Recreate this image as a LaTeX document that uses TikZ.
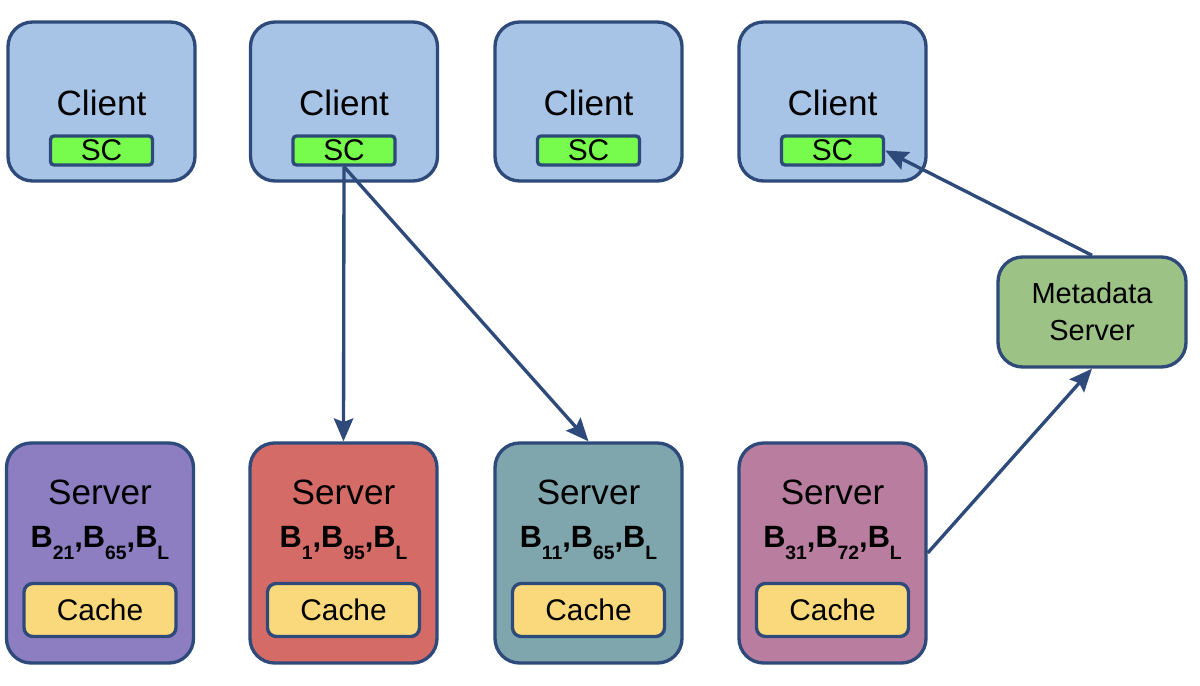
\documentclass[tikz,border=0pt]{standalone}
\usepackage{fontspec}
\setmainfont{Liberation Sans}
\usetikzlibrary{arrows.meta}

\definecolor{edge}{HTML}{2D4A7A}
\definecolor{clientfill}{HTML}{A7C4E6}
\definecolor{scfill}{HTML}{77FB4C}
\definecolor{cachefill}{HTML}{F9D97C}
\definecolor{metafill}{HTML}{9DC285}
\definecolor{srvA}{HTML}{8C7EC0}
\definecolor{srvB}{HTML}{D46B67}
\definecolor{srvC}{HTML}{7FA5AD}
\definecolor{srvD}{HTML}{B87D9F}

\newcommand{\bsub}[1]{\raisebox{-0.4em}{\fontsize{11}{11}\selectfont #1}}

\tikzset{
  box/.style={draw=edge,line width=1.9pt,rounded corners=14pt},
  clientbox/.style={box,fill=clientfill,minimum width=3.74cm,minimum height=3.18cm},
  serverbox/.style={box,minimum width=3.74cm,minimum height=4.4cm},
  scbox/.style={draw=edge,line width=1.9pt,rounded corners=2pt,fill=scfill,minimum width=2.04cm,minimum height=0.58cm,inner sep=0pt,font=\fontsize{17}{17}\selectfont},
  cachebox/.style={draw=edge,line width=1.9pt,rounded corners=5pt,fill=cachefill,minimum width=3.04cm,minimum height=1.06cm,inner sep=0pt,font=\fontsize{17}{17}\selectfont},
  title/.style={font=\fontsize{20}{20}\selectfont,inner sep=0pt},
  blocks/.style={font=\bfseries\fontsize{17.5}{17.5}\selectfont,inner sep=0pt},
  link/.style={draw=edge,line width=1.9pt,-{Stealth[length=13pt,width=11pt,inset=2pt]}}
}

\begin{document}
\begin{tikzpicture}
\useasboundingbox (0,0) rectangle (24,13.7);

% clients
\foreach \i/\x in {1/2.03,2/6.88,3/11.77,4/16.65}{
  \node[clientbox] (cl\i) at (\x,11.67) {};
  \node[title] (clt\i) at (\x,11.64) {Client};
  \node[scbox] (sc\i) at (\x,10.69) {SC};
}

% servers
\foreach \i/\x/\c in {1/2.0/srvA,2/6.87/srvB,3/11.77/srvC,4/16.65/srvD}{
  \node[serverbox,fill=\c] (srv\i) at (\x,2.64) {};
  \node[title] (srvt\i) at (\x,3.86) {Server};
  \node[cachebox] (cache\i) at (\x,1.5) {Cache};
}
\node[blocks] (blk1) at (2.0,2.84) {B\bsub{21},B\bsub{65},B\bsub{L}};
\node[blocks] (blk2) at (6.87,2.84) {B\bsub{1},B\bsub{95},B\bsub{L}};
\node[blocks] (blk3) at (11.77,2.84) {B\bsub{11},B\bsub{65},B\bsub{L}};
\node[blocks] (blk4) at (16.65,2.84) {B\bsub{31},B\bsub{72},B\bsub{L}};

% metadata server
\node[box,fill=metafill,minimum width=3.76cm,minimum height=2.2cm,align=center,
      font=\fontsize{16.5}{21}\selectfont] (meta) at (21.84,7.46) {Metadata\\Server};

% connectors
\draw[link] (sc2.south) -- (srv2.north);
\draw[link] (sc2.south) -- (srv3.north);
\draw[link] (srv4.east) -- (meta.south);
\draw[link] (meta.north) -- (sc4.east);
\end{tikzpicture}
\end{document}
